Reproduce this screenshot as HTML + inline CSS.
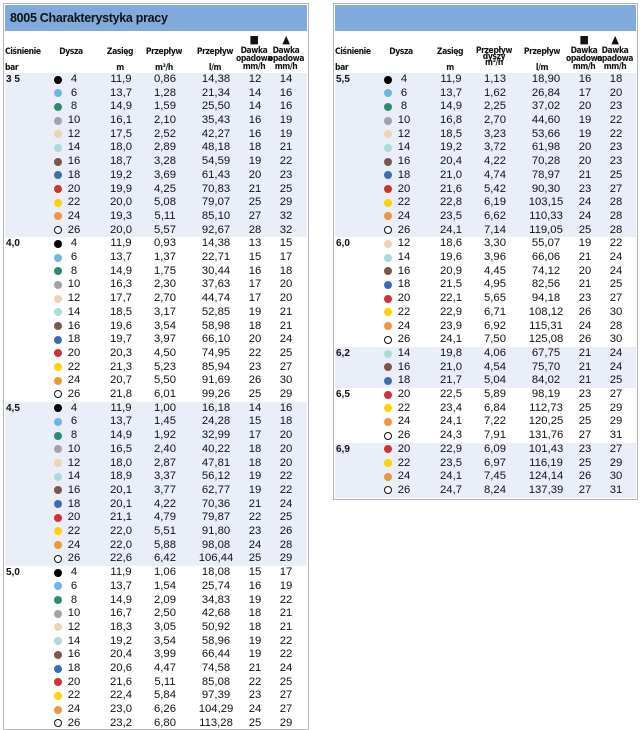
<!DOCTYPE html>
<html><head><meta charset="utf-8"><style>
body{margin:0;width:640px;height:730px;background:#fff;font-family:"Liberation Sans",sans-serif;color:#111;overflow:hidden;position:relative}
.pan{position:absolute;top:3px;border:1.5px solid #b4b4b4;box-sizing:border-box}
.tb{position:absolute;left:1px;right:1px;top:1px;height:26px;background:#80aadb;font-weight:bold;font-size:12.5px;line-height:26px;padding-left:5px;letter-spacing:-0.3px}
.hd{position:absolute;font-family:"DejaVu Sans Condensed","Liberation Sans",sans-serif;font-size:8.5px;font-weight:bold;letter-spacing:-0.4px;text-align:center;line-height:8px}
.g{position:absolute;left:1px;right:1px}
.s{background:#e9eef8}
.r{height:13.7px;position:relative;font-size:11.3px;line-height:13.7px}
.r span{position:absolute;text-align:center;width:40px;top:0}
.p{left:1px;text-align:left!important;font-weight:bold;font-size:10px}
.n{left:58px;width:22px!important}
.z{left:96px}.m{left:140px}.l{left:189px;width:44px!important}.a{left:230px}.b{left:261px}
.r i{position:absolute;left:49px;top:2.5px;width:8px;height:8px;border-radius:50%;box-sizing:border-box}
.c4{background:#000}.c6{background:#6db5e5}.c8{background:#2c8c70}.c10{background:#a3a3a3}.c12{background:#ecd4b2}.c14{background:#a9dcd7}.c16{background:#7b5649}.c18{background:#3c6db3}.c20{background:#d13230}.c22{background:#ffd200}.c24{background:#f0953d}.c26{border:1.5px solid #111;background:#fff}
</style></head><body>

<div class="pan" style="left:3px;width:306px;height:727px">
<div class="tb">8005 Charakterystyka pracy</div>
<div class="hd" style="left:1px;top:44px;text-align:left">Ciśnienie</div>
<div class="hd" style="left:1px;top:60px;text-align:left">bar</div>
<div class="hd" style="left:52px;top:44px;width:30px">Dysza</div>
<div class="hd" style="left:96px;top:44px;width:40px">Zasięg</div>
<div class="hd" style="left:96px;top:60px;width:40px">m</div>
<div class="hd" style="left:140px;top:44px;width:40px">Przepływ</div>
<div class="hd" style="left:140px;top:60px;width:40px">m³/h</div>
<div class="hd" style="left:191px;top:44px;width:40px">Przepływ</div>
<div class="hd" style="left:191px;top:60px;width:40px">l/m</div>
<div class="hd" style="left:228px;top:30px;width:44px;font-size:11px;line-height:11px">■</div>
<div class="hd" style="left:228px;top:43px;width:44px">Dawka<br>opadowa<br>mm/h</div>
<div class="hd" style="left:260px;top:30px;width:44px;font-size:11px;line-height:11px">▲</div>
<div class="hd" style="left:260px;top:43px;width:44px">Dawka<br>opadowa<br>mm/h</div>

<div class="g s" style="top:69px">
<div class="r"><span class="p">3 5</span><i class="c4"></i><span class="n">4</span><span class="z">11,9</span><span class="m">0,86</span><span class="l">14,38</span><span class="a">12</span><span class="b">14</span></div>
<div class="r"><i class="c6"></i><span class="n">6</span><span class="z">13,7</span><span class="m">1,28</span><span class="l">21,34</span><span class="a">14</span><span class="b">16</span></div>
<div class="r"><i class="c8"></i><span class="n">8</span><span class="z">14,9</span><span class="m">1,59</span><span class="l">25,50</span><span class="a">14</span><span class="b">16</span></div>
<div class="r"><i class="c10"></i><span class="n">10</span><span class="z">16,1</span><span class="m">2,10</span><span class="l">35,43</span><span class="a">16</span><span class="b">19</span></div>
<div class="r"><i class="c12"></i><span class="n">12</span><span class="z">17,5</span><span class="m">2,52</span><span class="l">42,27</span><span class="a">16</span><span class="b">19</span></div>
<div class="r"><i class="c14"></i><span class="n">14</span><span class="z">18,0</span><span class="m">2,89</span><span class="l">48,18</span><span class="a">18</span><span class="b">21</span></div>
<div class="r"><i class="c16"></i><span class="n">16</span><span class="z">18,7</span><span class="m">3,28</span><span class="l">54,59</span><span class="a">19</span><span class="b">22</span></div>
<div class="r"><i class="c18"></i><span class="n">18</span><span class="z">19,2</span><span class="m">3,69</span><span class="l">61,43</span><span class="a">20</span><span class="b">23</span></div>
<div class="r"><i class="c20"></i><span class="n">20</span><span class="z">19,9</span><span class="m">4,25</span><span class="l">70,83</span><span class="a">21</span><span class="b">25</span></div>
<div class="r"><i class="c22"></i><span class="n">22</span><span class="z">20,0</span><span class="m">5,08</span><span class="l">79,07</span><span class="a">25</span><span class="b">29</span></div>
<div class="r"><i class="c24"></i><span class="n">24</span><span class="z">19,3</span><span class="m">5,11</span><span class="l">85,10</span><span class="a">27</span><span class="b">32</span></div>
<div class="r"><i class="c26"></i><span class="n">26</span><span class="z">20,0</span><span class="m">5,57</span><span class="l">92,67</span><span class="a">28</span><span class="b">32</span></div>
</div>

<div class="g" style="top:233.4px">
<div class="r"><span class="p">4,0</span><i class="c4"></i><span class="n">4</span><span class="z">11,9</span><span class="m">0,93</span><span class="l">14,38</span><span class="a">13</span><span class="b">15</span></div>
<div class="r"><i class="c6"></i><span class="n">6</span><span class="z">13,7</span><span class="m">1,37</span><span class="l">22,71</span><span class="a">15</span><span class="b">17</span></div>
<div class="r"><i class="c8"></i><span class="n">8</span><span class="z">14,9</span><span class="m">1,75</span><span class="l">30,44</span><span class="a">16</span><span class="b">18</span></div>
<div class="r"><i class="c10"></i><span class="n">10</span><span class="z">16,3</span><span class="m">2,30</span><span class="l">37,63</span><span class="a">17</span><span class="b">20</span></div>
<div class="r"><i class="c12"></i><span class="n">12</span><span class="z">17,7</span><span class="m">2,70</span><span class="l">44,74</span><span class="a">17</span><span class="b">20</span></div>
<div class="r"><i class="c14"></i><span class="n">14</span><span class="z">18,5</span><span class="m">3,17</span><span class="l">52,85</span><span class="a">19</span><span class="b">21</span></div>
<div class="r"><i class="c16"></i><span class="n">16</span><span class="z">19,6</span><span class="m">3,54</span><span class="l">58,98</span><span class="a">18</span><span class="b">21</span></div>
<div class="r"><i class="c18"></i><span class="n">18</span><span class="z">19,7</span><span class="m">3,97</span><span class="l">66,10</span><span class="a">20</span><span class="b">24</span></div>
<div class="r"><i class="c20"></i><span class="n">20</span><span class="z">20,3</span><span class="m">4,50</span><span class="l">74,95</span><span class="a">22</span><span class="b">25</span></div>
<div class="r"><i class="c22"></i><span class="n">22</span><span class="z">21,3</span><span class="m">5,23</span><span class="l">85,94</span><span class="a">23</span><span class="b">27</span></div>
<div class="r"><i class="c24"></i><span class="n">24</span><span class="z">20,7</span><span class="m">5,50</span><span class="l">91,69</span><span class="a">26</span><span class="b">30</span></div>
<div class="r"><i class="c26"></i><span class="n">26</span><span class="z">21,8</span><span class="m">6,01</span><span class="l">99,26</span><span class="a">25</span><span class="b">29</span></div>
</div>

<div class="g s" style="top:397.8px">
<div class="r"><span class="p">4,5</span><i class="c4"></i><span class="n">4</span><span class="z">11,9</span><span class="m">1,00</span><span class="l">16,18</span><span class="a">14</span><span class="b">16</span></div>
<div class="r"><i class="c6"></i><span class="n">6</span><span class="z">13,7</span><span class="m">1,45</span><span class="l">24,28</span><span class="a">15</span><span class="b">18</span></div>
<div class="r"><i class="c8"></i><span class="n">8</span><span class="z">14,9</span><span class="m">1,92</span><span class="l">32,99</span><span class="a">17</span><span class="b">20</span></div>
<div class="r"><i class="c10"></i><span class="n">10</span><span class="z">16,5</span><span class="m">2,40</span><span class="l">40,22</span><span class="a">18</span><span class="b">20</span></div>
<div class="r"><i class="c12"></i><span class="n">12</span><span class="z">18,0</span><span class="m">2,87</span><span class="l">47,81</span><span class="a">18</span><span class="b">20</span></div>
<div class="r"><i class="c14"></i><span class="n">14</span><span class="z">18,9</span><span class="m">3,37</span><span class="l">56,12</span><span class="a">19</span><span class="b">22</span></div>
<div class="r"><i class="c16"></i><span class="n">16</span><span class="z">20,1</span><span class="m">3,77</span><span class="l">62,77</span><span class="a">19</span><span class="b">22</span></div>
<div class="r"><i class="c18"></i><span class="n">18</span><span class="z">20,1</span><span class="m">4,22</span><span class="l">70,36</span><span class="a">21</span><span class="b">24</span></div>
<div class="r"><i class="c20"></i><span class="n">20</span><span class="z">21,1</span><span class="m">4,79</span><span class="l">79,87</span><span class="a">22</span><span class="b">25</span></div>
<div class="r"><i class="c22"></i><span class="n">22</span><span class="z">22,0</span><span class="m">5,51</span><span class="l">91,80</span><span class="a">23</span><span class="b">26</span></div>
<div class="r"><i class="c24"></i><span class="n">24</span><span class="z">22,0</span><span class="m">5,88</span><span class="l">98,08</span><span class="a">24</span><span class="b">28</span></div>
<div class="r"><i class="c26"></i><span class="n">26</span><span class="z">22,6</span><span class="m">6,42</span><span class="l">106,44</span><span class="a">25</span><span class="b">29</span></div>
</div>

<div class="g" style="top:562.2px">
<div class="r"><span class="p">5,0</span><i class="c4"></i><span class="n">4</span><span class="z">11,9</span><span class="m">1,06</span><span class="l">18,08</span><span class="a">15</span><span class="b">17</span></div>
<div class="r"><i class="c6"></i><span class="n">6</span><span class="z">13,7</span><span class="m">1,54</span><span class="l">25,74</span><span class="a">16</span><span class="b">19</span></div>
<div class="r"><i class="c8"></i><span class="n">8</span><span class="z">14,9</span><span class="m">2,09</span><span class="l">34,83</span><span class="a">19</span><span class="b">22</span></div>
<div class="r"><i class="c10"></i><span class="n">10</span><span class="z">16,7</span><span class="m">2,50</span><span class="l">42,68</span><span class="a">18</span><span class="b">21</span></div>
<div class="r"><i class="c12"></i><span class="n">12</span><span class="z">18,3</span><span class="m">3,05</span><span class="l">50,92</span><span class="a">18</span><span class="b">21</span></div>
<div class="r"><i class="c14"></i><span class="n">14</span><span class="z">19,2</span><span class="m">3,54</span><span class="l">58,96</span><span class="a">19</span><span class="b">22</span></div>
<div class="r"><i class="c16"></i><span class="n">16</span><span class="z">20,4</span><span class="m">3,99</span><span class="l">66,44</span><span class="a">19</span><span class="b">22</span></div>
<div class="r"><i class="c18"></i><span class="n">18</span><span class="z">20,6</span><span class="m">4,47</span><span class="l">74,58</span><span class="a">21</span><span class="b">24</span></div>
<div class="r"><i class="c20"></i><span class="n">20</span><span class="z">21,6</span><span class="m">5,11</span><span class="l">85,08</span><span class="a">22</span><span class="b">25</span></div>
<div class="r"><i class="c22"></i><span class="n">22</span><span class="z">22,4</span><span class="m">5,84</span><span class="l">97,39</span><span class="a">23</span><span class="b">27</span></div>
<div class="r"><i class="c24"></i><span class="n">24</span><span class="z">23,0</span><span class="m">6,26</span><span class="l">104,29</span><span class="a">24</span><span class="b">27</span></div>
<div class="r"><i class="c26"></i><span class="n">26</span><span class="z">23,2</span><span class="m">6,80</span><span class="l">113,28</span><span class="a">25</span><span class="b">29</span></div>
</div>
</div>

<div class="pan" style="left:333px;width:305px;height:497px">
<div class="tb"></div>
<div class="hd" style="left:1px;top:44px;text-align:left">Ciśnienie</div>
<div class="hd" style="left:1px;top:60px;text-align:left">bar</div>
<div class="hd" style="left:52px;top:44px;width:30px">Dysza</div>
<div class="hd" style="left:96px;top:44px;width:40px">Zasięg</div>
<div class="hd" style="left:96px;top:60px;width:40px">m</div>
<div class="hd" style="left:140px;top:44px;width:40px;line-height:6px">Przepływ<br>dyszy<br>m³/h</div>
<div class="hd" style="left:188px;top:44px;width:40px">Przepływ</div>
<div class="hd" style="left:188px;top:60px;width:40px">l/m</div>
<div class="hd" style="left:228px;top:30px;width:44px;font-size:11px;line-height:11px">■</div>
<div class="hd" style="left:228px;top:43px;width:44px">Dawka<br>opadowa<br>mm/h</div>
<div class="hd" style="left:259px;top:30px;width:44px;font-size:11px;line-height:11px">▲</div>
<div class="hd" style="left:259px;top:43px;width:44px">Dawka<br>opadowa<br>mm/h</div>

<div class="g s" style="top:69px">
<div class="r"><span class="p">5,5</span><i class="c4"></i><span class="n">4</span><span class="z">11,9</span><span class="m">1,13</span><span class="l">18,90</span><span class="a">16</span><span class="b">18</span></div>
<div class="r"><i class="c6"></i><span class="n">6</span><span class="z">13,7</span><span class="m">1,62</span><span class="l">26,84</span><span class="a">17</span><span class="b">20</span></div>
<div class="r"><i class="c8"></i><span class="n">8</span><span class="z">14,9</span><span class="m">2,25</span><span class="l">37,02</span><span class="a">20</span><span class="b">23</span></div>
<div class="r"><i class="c10"></i><span class="n">10</span><span class="z">16,8</span><span class="m">2,70</span><span class="l">44,60</span><span class="a">19</span><span class="b">22</span></div>
<div class="r"><i class="c12"></i><span class="n">12</span><span class="z">18,5</span><span class="m">3,23</span><span class="l">53,66</span><span class="a">19</span><span class="b">22</span></div>
<div class="r"><i class="c14"></i><span class="n">14</span><span class="z">19,2</span><span class="m">3,72</span><span class="l">61,98</span><span class="a">20</span><span class="b">23</span></div>
<div class="r"><i class="c16"></i><span class="n">16</span><span class="z">20,4</span><span class="m">4,22</span><span class="l">70,28</span><span class="a">20</span><span class="b">23</span></div>
<div class="r"><i class="c18"></i><span class="n">18</span><span class="z">21,0</span><span class="m">4,74</span><span class="l">78,97</span><span class="a">21</span><span class="b">25</span></div>
<div class="r"><i class="c20"></i><span class="n">20</span><span class="z">21,6</span><span class="m">5,42</span><span class="l">90,30</span><span class="a">23</span><span class="b">27</span></div>
<div class="r"><i class="c22"></i><span class="n">22</span><span class="z">22,8</span><span class="m">6,19</span><span class="l">103,15</span><span class="a">24</span><span class="b">28</span></div>
<div class="r"><i class="c24"></i><span class="n">24</span><span class="z">23,5</span><span class="m">6,62</span><span class="l">110,33</span><span class="a">24</span><span class="b">28</span></div>
<div class="r"><i class="c26"></i><span class="n">26</span><span class="z">24,1</span><span class="m">7,14</span><span class="l">119,05</span><span class="a">25</span><span class="b">28</span></div>
</div>

<div class="g" style="top:233.4px">
<div class="r"><span class="p">6,0</span><i class="c12"></i><span class="n">12</span><span class="z">18,6</span><span class="m">3,30</span><span class="l">55,07</span><span class="a">19</span><span class="b">22</span></div>
<div class="r"><i class="c14"></i><span class="n">14</span><span class="z">19,6</span><span class="m">3,96</span><span class="l">66,06</span><span class="a">21</span><span class="b">24</span></div>
<div class="r"><i class="c16"></i><span class="n">16</span><span class="z">20,9</span><span class="m">4,45</span><span class="l">74,12</span><span class="a">20</span><span class="b">24</span></div>
<div class="r"><i class="c18"></i><span class="n">18</span><span class="z">21,5</span><span class="m">4,95</span><span class="l">82,56</span><span class="a">21</span><span class="b">25</span></div>
<div class="r"><i class="c20"></i><span class="n">20</span><span class="z">22,1</span><span class="m">5,65</span><span class="l">94,18</span><span class="a">23</span><span class="b">27</span></div>
<div class="r"><i class="c22"></i><span class="n">22</span><span class="z">22,9</span><span class="m">6,71</span><span class="l">108,12</span><span class="a">26</span><span class="b">30</span></div>
<div class="r"><i class="c24"></i><span class="n">24</span><span class="z">23,9</span><span class="m">6,92</span><span class="l">115,31</span><span class="a">24</span><span class="b">28</span></div>
<div class="r"><i class="c26"></i><span class="n">26</span><span class="z">24,1</span><span class="m">7,50</span><span class="l">125,08</span><span class="a">26</span><span class="b">30</span></div>
</div>

<div class="g s" style="top:343px">
<div class="r"><span class="p">6,2</span><i class="c14"></i><span class="n">14</span><span class="z">19,8</span><span class="m">4,06</span><span class="l">67,75</span><span class="a">21</span><span class="b">24</span></div>
<div class="r"><i class="c16"></i><span class="n">16</span><span class="z">21,0</span><span class="m">4,54</span><span class="l">75,70</span><span class="a">21</span><span class="b">24</span></div>
<div class="r"><i class="c18"></i><span class="n">18</span><span class="z">21,7</span><span class="m">5,04</span><span class="l">84,02</span><span class="a">21</span><span class="b">25</span></div>
</div>

<div class="g" style="top:384.1px">
<div class="r"><span class="p">6,5</span><i class="c20"></i><span class="n">20</span><span class="z">22,5</span><span class="m">5,89</span><span class="l">98,19</span><span class="a">23</span><span class="b">27</span></div>
<div class="r"><i class="c22"></i><span class="n">22</span><span class="z">23,4</span><span class="m">6,84</span><span class="l">112,73</span><span class="a">25</span><span class="b">29</span></div>
<div class="r"><i class="c24"></i><span class="n">24</span><span class="z">24,1</span><span class="m">7,22</span><span class="l">120,25</span><span class="a">25</span><span class="b">29</span></div>
<div class="r"><i class="c26"></i><span class="n">26</span><span class="z">24,3</span><span class="m">7,91</span><span class="l">131,76</span><span class="a">27</span><span class="b">31</span></div>
</div>

<div class="g s" style="top:438.9px;bottom:1px">
<div class="r"><span class="p">6,9</span><i class="c20"></i><span class="n">20</span><span class="z">22,9</span><span class="m">6,09</span><span class="l">101,43</span><span class="a">23</span><span class="b">27</span></div>
<div class="r"><i class="c22"></i><span class="n">22</span><span class="z">23,5</span><span class="m">6,97</span><span class="l">116,19</span><span class="a">25</span><span class="b">29</span></div>
<div class="r"><i class="c24"></i><span class="n">24</span><span class="z">24,1</span><span class="m">7,45</span><span class="l">124,14</span><span class="a">26</span><span class="b">30</span></div>
<div class="r"><i class="c26"></i><span class="n">26</span><span class="z">24,7</span><span class="m">8,24</span><span class="l">137,39</span><span class="a">27</span><span class="b">31</span></div>
</div>
</div>
</body></html>
